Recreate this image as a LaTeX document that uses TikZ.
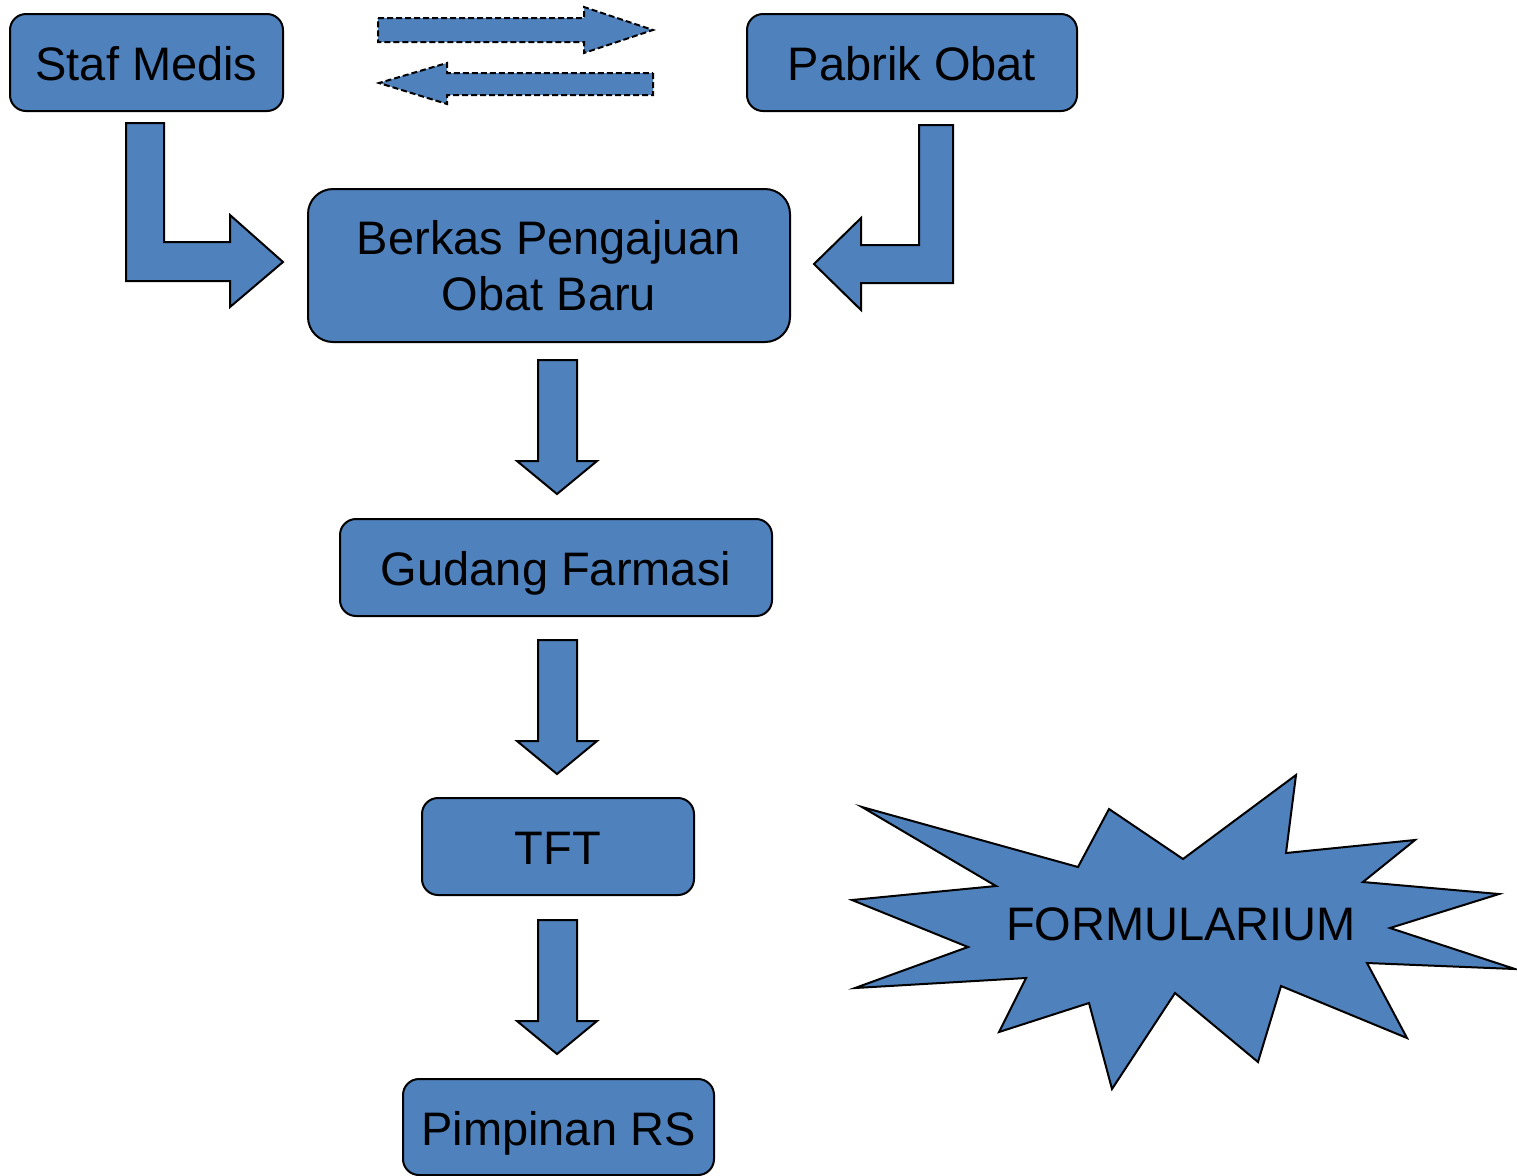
\documentclass[tikz,border=0pt]{standalone}
\usepackage{fontspec}
\setmainfont{Liberation Sans}
\definecolor{boxblue}{HTML}{4F81BD}
\tikzset{
  box/.style={draw=black, fill=boxblue, line width=1pt, rounded corners=8pt,
    minimum height=48.5pt, inner sep=0pt, text height=18.3pt, text depth=0pt,
    font=\fontsize{23.5pt}{28.2pt}\selectfont},
  blockarrow/.style={draw=black, fill=boxblue, line width=1pt, line join=miter},
  dasharrow/.style={blockarrow, dash pattern=on 3pt off 1.5pt}
}
\begin{document}
\begin{tikzpicture}[x=0.5pt,y=-0.5pt]
\useasboundingbox (0,0) rectangle (1517,1175);
% boxes
\node[box, minimum width=136.5pt] (staf) at (146.5,62.5) {Staf Medis};
\node[box, minimum width=165pt] (pabrik) at (912,62.5) {Pabrik Obat};
\node[box, minimum width=241pt, minimum height=76.5pt, rounded corners=12.5pt,
  text height=, text depth=, align=center] (berkas) at (549,265.5) {Berkas Pengajuan\\Obat Baru};
\node[box, minimum width=216pt] (gudang) at (556,567.5) {Gudang Farmasi};
\node[box, minimum width=136pt] (tft) at (558,846.5) {TFT};
\node[box, minimum width=155.5pt, minimum height=48pt] (pimpinan) at (558.5,1127) {Pimpinan RS};
% dashed arrows
\draw[dasharrow] (378,18)--(584,18)--(584,7)--(653,30)--(584,53)--(584,42)--(378,42)--cycle;
\draw[dasharrow] (653,73)--(653,95)--(447,95)--(447,104)--(379,83)--(447,63)--(447,73)--cycle;
% bent arrows
\draw[blockarrow] (126,123)--(164,123)--(164,242)--(230,242)--(230,215)--(283,262)
  --(230,307)--(230,281)--(126,281)--cycle;
\draw[blockarrow] (919,125)--(953,125)--(953,283)--(861,283)--(861,310)--(814,264)
  --(861,218)--(861,245)--(919,245)--cycle;
% down arrows
\draw[blockarrow] (538,360)--(577,360)--(577,461)--(597,461)--(557,494)--(517,461)--(538,461)--cycle;
\draw[blockarrow] (538,640)--(577,640)--(577,741)--(597,741)--(557,774)--(517,741)--(538,741)--cycle;
\draw[blockarrow] (538,920)--(577,920)--(577,1021)--(597,1021)--(557,1054)--(517,1021)--(538,1021)--cycle;
% starburst
\draw[blockarrow] (862,807)--(1078,867)--(1109,809)--(1183,859)--(1296,775)--(1286,853)
  --(1415,840)--(1363,882)--(1499,894)--(1390,928)--(1515,969)--(1367,963)
  --(1407,1038)--(1281,986)--(1258,1062)--(1175,993)--(1112,1089)--(1089,1003)
  --(999,1032)--(1026,978)--(855,988)--(968,947)--(852,900)--(996,886)--cycle;
\node[font=\fontsize{23.5pt}{28.2pt}\selectfont] (formularium) at (1181,924) {FORMULARIUM};
\end{tikzpicture}
\end{document}
